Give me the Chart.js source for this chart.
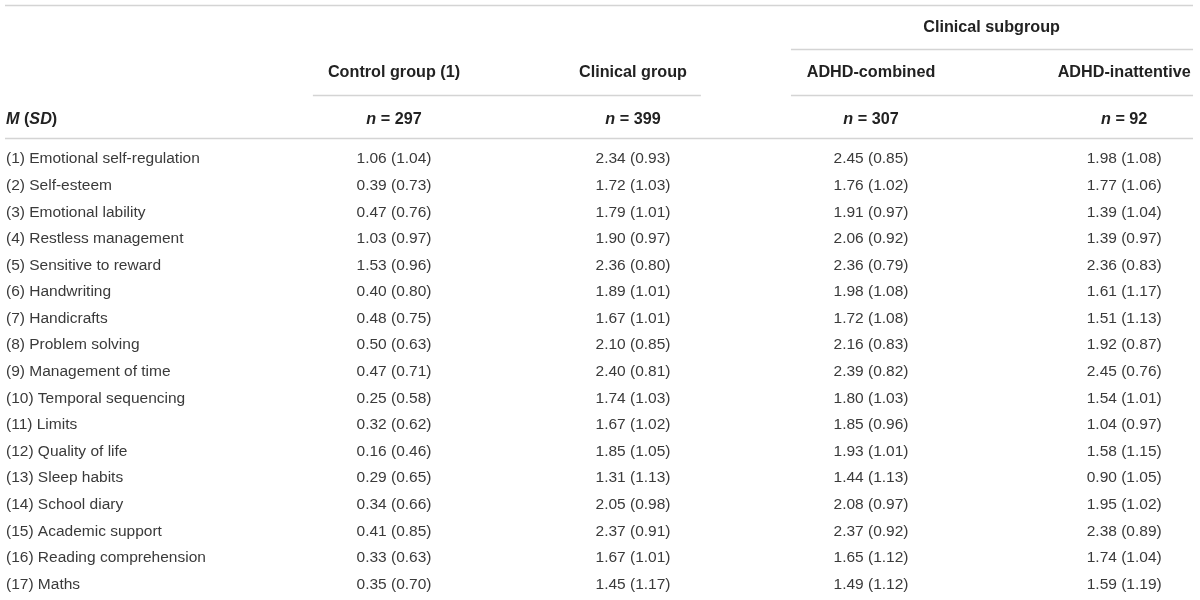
<!DOCTYPE html>
<html>
<head>
<meta charset="utf-8">
<script src="https://cdn.jsdelivr.net/npm/chart.js@4.4.1/dist/chart.umd.min.js"></script>
<style>
  html, body { margin: 0; padding: 0; background: #ffffff; }
  #wrap { width: 1200px; height: 600px; position: relative; }
</style>
</head>
<body>
<div id="wrap"><canvas id="c"></canvas></div>
<script>
// ---------- DATA ----------
const rowLabels = [
  "(1) Emotional self-regulation",
  "(2) Self-esteem",
  "(3) Emotional lability",
  "(4) Restless management",
  "(5) Sensitive to reward",
  "(6) Handwriting",
  "(7) Handicrafts",
  "(8) Problem solving",
  "(9) Management of time",
  "(10) Temporal sequencing",
  "(11) Limits",
  "(12) Quality of life",
  "(13) Sleep habits",
  "(14) School diary",
  "(15) Academic support",
  "(16) Reading comprehension",
  "(17) Maths"
];
const columnHeaders = ["Control group (1)", "Clinical group", "ADHD-combined", "ADHD-inattentive"];
const groupCounts = [297, 399, 307, 92];
const subgroupHeader = "Clinical subgroup";

const controlM   = [1.06,0.39,0.47,1.03,1.53,0.40,0.48,0.50,0.47,0.25,0.32,0.16,0.29,0.34,0.41,0.33,0.35];
const controlSD  = [1.04,0.73,0.76,0.97,0.96,0.80,0.75,0.63,0.71,0.58,0.62,0.46,0.65,0.66,0.85,0.63,0.70];
const clinicalM  = [2.34,1.72,1.79,1.90,2.36,1.89,1.67,2.10,2.40,1.74,1.67,1.85,1.31,2.05,2.37,1.67,1.45];
const clinicalSD = [0.93,1.03,1.01,0.97,0.80,1.01,1.01,0.85,0.81,1.03,1.02,1.05,1.13,0.98,0.91,1.01,1.17];
const combinedM  = [2.45,1.76,1.91,2.06,2.36,1.98,1.72,2.16,2.39,1.80,1.85,1.93,1.44,2.08,2.37,1.65,1.49];
const combinedSD = [0.85,1.02,0.97,0.92,0.79,1.08,1.08,0.83,0.82,1.03,0.96,1.01,1.13,0.97,0.92,1.12,1.12];
const inattM     = [1.98,1.77,1.39,1.39,2.36,1.61,1.51,1.92,2.45,1.54,1.04,1.58,0.90,1.95,2.38,1.74,1.59];
const inattSD    = [1.08,1.06,1.04,0.97,0.83,1.17,1.13,0.87,0.76,1.01,0.97,1.15,1.05,1.02,0.89,1.04,1.19];

// ---------- BUILD CELLS ----------
const meansByCol = [controlM, clinicalM, combinedM, inattM];
const sdsByCol   = [controlSD, clinicalSD, combinedSD, inattSD];
const cells = [];
meansByCol.forEach((col, ci) => {
  col.forEach((m, ri) => {
    cells.push({ x: ci + 1, y: ri, text: m.toFixed(2) + " (" + sdsByCol[ci][ri].toFixed(2) + ")" });
  });
});
const labelCells = rowLabels.map((t, ri) => ({ x: 0, y: ri, text: t }));

// ---------- LAYOUT (row units for header band) ----------
const LAYOUT = {
  yMin: -5.98, yMax: 16.58,
  xMin: -0.6116, xMax: 4.3307,
  colNudge: [2.7, -1.1, -5.9, 4.5],
  subgroupRow: -4.93, headerRow: -3.24, countRow: -1.48,
  topRule: -5.79, subgroupRule: -4.14, headerRule: -2.40, bodyRule: -0.81,
  leftPad: 6, rightPad: 7,
  spans: [[0.677, 2.275], [2.646, 4.302]],
  subSpan: [2.646, 4.302]
};

const FONT = '"Liberation Sans", Arial, Helvetica, sans-serif';
const BODY_COLOR = '#3a3a3a';
const HEAD_COLOR = '#222222';
const RULE_COLOR = '#d4d4d4';

function drawRuns(ctx, runs, cx, cy, align) {
  let total = 0;
  runs.forEach(r => { ctx.font = r.font; total += ctx.measureText(r.t).width; });
  let x = align === 'center' ? cx - total / 2 : cx;
  ctx.textAlign = 'left';
  runs.forEach(r => { ctx.font = r.font; ctx.fillText(r.t, x, cy); x += ctx.measureText(r.t).width; });
}

const tablePlugin = {
  id: 'tableText',
  afterDatasetsDraw(chart) {
    const ctx = chart.ctx;
    const xs = chart.scales.x, ys = chart.scales.y;
    const area = chart.chartArea;
    const X = v => xs.getPixelForValue(v);
    const CX = i => xs.getPixelForValue(i) + LAYOUT.colNudge[i - 1];
    const Y = v => ys.getPixelForValue(v);
    ctx.save();
    // rules
    ctx.strokeStyle = RULE_COLOR;
    ctx.lineWidth = 1.5;
    const hline = (x1, x2, y) => { ctx.beginPath(); ctx.moveTo(x1, Math.round(y) + 0.5); ctx.lineTo(x2, Math.round(y) + 0.5); ctx.stroke(); };
    hline(area.left + LAYOUT.leftPad - 1, area.right - LAYOUT.rightPad, Y(LAYOUT.topRule));
    hline(X(LAYOUT.subSpan[0]), X(LAYOUT.subSpan[1]), Y(LAYOUT.subgroupRule));
    LAYOUT.spans.forEach(s => hline(X(s[0]), X(s[1]), Y(LAYOUT.headerRule)));
    hline(area.left + LAYOUT.leftPad - 1, area.right - LAYOUT.rightPad, Y(LAYOUT.bodyRule));

    ctx.textBaseline = 'middle';
    // header texts
    const bold = 'bold 16.2px ' + FONT;
    const boldItalic = 'italic bold 16.2px ' + FONT;
    ctx.fillStyle = HEAD_COLOR;
    ctx.font = bold; ctx.textAlign = 'center';
    ctx.fillText(subgroupHeader, (CX(3) + CX(4)) / 2 - 6, Y(LAYOUT.subgroupRow));
    columnHeaders.forEach((h, i) => {
      ctx.font = bold; ctx.textAlign = 'center';
      ctx.fillText(h, CX(i + 1), Y(LAYOUT.headerRow));
    });
    groupCounts.forEach((n, i) => {
      drawRuns(ctx, [{ t: 'n', font: boldItalic }, { t: ' = ' + n, font: bold }], CX(i + 1), Y(LAYOUT.countRow), 'center');
    });
    drawRuns(ctx, [
      { t: 'M', font: boldItalic }, { t: ' (', font: bold }, { t: 'SD', font: boldItalic }, { t: ')', font: bold }
    ], area.left + LAYOUT.leftPad, Y(LAYOUT.countRow), 'left');

    // body
    ctx.fillStyle = BODY_COLOR;
    ctx.font = '15.5px ' + FONT;
    ctx.textAlign = 'left';
    labelCells.forEach(c => ctx.fillText(c.text, area.left + LAYOUT.leftPad, Y(c.y)));
    ctx.textAlign = 'center';
    cells.forEach(c => ctx.fillText(c.text, CX(c.x), Y(c.y)));
    ctx.restore();
  }
};

new Chart(document.getElementById('c'), {
  type: 'scatter',
  data: {
    datasets: [{
      data: cells.concat(labelCells),
      pointRadius: 0,
      pointHoverRadius: 0,
      showLine: false
    }]
  },
  options: {
    responsive: true,
    maintainAspectRatio: false,
    animation: false,
    layout: { padding: 0 },
    plugins: { legend: { display: false }, tooltip: { enabled: false } },
    events: [],
    scales: {
      x: { type: 'linear', display: false, min: LAYOUT.xMin, max: LAYOUT.xMax },
      y: { type: 'linear', display: false, reverse: true, min: LAYOUT.yMin, max: LAYOUT.yMax }
    }
  },
  plugins: [tablePlugin]
});
</script>
</body>
</html>
